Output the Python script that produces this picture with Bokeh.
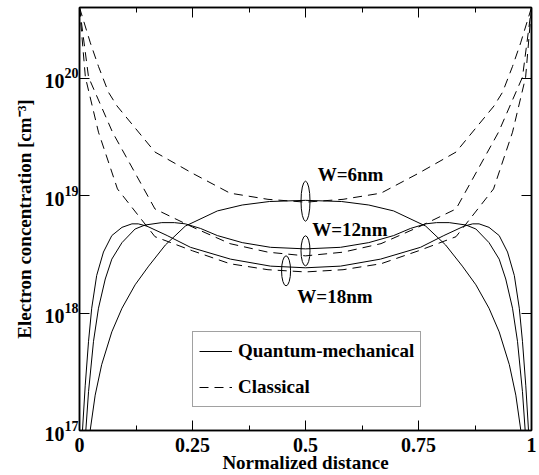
from bokeh.plotting import figure
from bokeh.models import (LinearAxis, LogAxis, Range1d, Legend, LegendItem,
                          FixedTicker, ColumnDataSource, CustomJSTickFormatter)
from bokeh.embed import file_html
from bokeh.resources import INLINE
from bokeh.core.properties import value

# ---------------- data ----------------
# Classical (dashed)
x_cl6 = [0.0, 0.024, 0.042, 0.064, 0.083, 0.167, 0.25, 0.333, 0.417, 0.5,
         0.583, 0.667, 0.75, 0.833, 0.917, 0.936, 0.958, 0.976, 1.0]
n_cl6 = [4.0e20, 2.0e20, 1.26e20, 7.6e19, 5.8e19, 2.35e19, 1.55e19, 1.05e19, 9.3e18, 8.8e18,
         9.3e18, 1.05e19, 1.55e19, 2.35e19, 5.8e19, 7.6e19, 1.26e20, 2.0e20, 4.0e20]

x_cl12 = [0.0, 0.02, 0.073, 0.167, 0.25, 0.333, 0.417, 0.5,
          0.583, 0.667, 0.75, 0.833, 0.927, 0.98, 1.0]
n_cl12 = [4.0e20, 1.02e20, 3.47e19, 7.7e18, 5.4e18, 3.9e18, 3.3e18, 3.07e18,
          3.3e18, 3.9e18, 5.4e18, 7.7e18, 3.47e19, 1.02e20, 4.0e20]

x_cl18 = [0.0, 0.013, 0.042, 0.084, 0.167, 0.25, 0.333, 0.417, 0.5,
          0.583, 0.667, 0.75, 0.833, 0.916, 0.958, 0.987, 1.0]
n_cl18 = [4.0e20, 1.02e20, 3.47e19, 1.14e19, 4.47e18, 3.39e18, 2.63e18, 2.34e18, 2.24e18,
          2.34e18, 2.63e18, 3.39e18, 4.47e18, 1.14e19, 3.47e19, 1.02e20, 4.0e20]

# Quantum-mechanical (solid)
x_qm6 = [0.004, 0.012, 0.0236, 0.0347, 0.049, 0.0715, 0.094, 0.123, 0.153, 0.19, 0.234, 0.305, 0.36, 0.42,
         0.5,
         0.58, 0.64, 0.695, 0.766, 0.81, 0.847, 0.877, 0.906, 0.9285, 0.951, 0.9653, 0.9764, 0.988, 0.996]
n_qm6 = [4e15, 2.5e16, 1.0e17, 2.0e17, 3.63e17, 6.92e17, 1.10e18, 1.74e18, 2.51e18, 3.80e18, 5.50e18, 7.41e18, 8.32e18, 8.91e18,
         9.12e18,
         8.91e18, 8.32e18, 7.41e18, 5.50e18, 3.80e18, 2.51e18, 1.74e18, 1.10e18, 6.92e17, 3.63e17, 2.0e17, 1.0e17, 2.5e16, 4e15]

x_qm12 = [0.003, 0.008, 0.014, 0.020, 0.031, 0.042, 0.057, 0.0715, 0.094, 0.123, 0.145, 0.182, 0.21, 0.234,
          0.268, 0.305, 0.36, 0.4226,
          0.5,
          0.5774, 0.64, 0.695, 0.732, 0.766, 0.79, 0.818, 0.855, 0.877, 0.906, 0.9285, 0.943, 0.958, 0.969,
          0.98, 0.986, 0.992, 0.997]
n_qm12 = [6.3e15, 3.5e16, 1.0e17, 2.14e17, 5.75e17, 1.10e18, 1.95e18, 2.88e18, 3.98e18, 5.2e18, 5.62e18, 5.89e18, 5.89e18, 5.75e18,
          5.25e18, 4.57e18, 3.98e18, 3.63e18,
          3.52e18,
          3.63e18, 3.98e18, 4.57e18, 5.25e18, 5.75e18, 5.89e18, 5.89e18, 5.62e18, 5.2e18, 3.98e18, 2.88e18, 1.95e18, 1.10e18, 5.75e17,
          2.14e17, 1.0e17, 3.5e16, 6.3e15]

x_qm18 = [0.002, 0.0066, 0.0126, 0.020, 0.027, 0.038, 0.053, 0.0715, 0.094, 0.116, 0.13, 0.149, 0.194, 0.2456, 0.334, 0.4226,
          0.5,
          0.5774, 0.666, 0.7544, 0.806, 0.851, 0.87, 0.884, 0.906, 0.9285, 0.947, 0.962, 0.973, 0.98, 0.9874, 0.9934, 0.998]
n_qm18 = [1.26e16, 1.0e17, 2.4e17, 5.75e17, 1.10e18, 2.09e18, 3.31e18, 4.57e18, 5.37e18, 5.75e18, 5.75e18, 5.5e18, 4.57e18, 3.63e18, 2.88e18, 2.51e18,
          2.43e18,
          2.51e18, 2.88e18, 3.63e18, 4.57e18, 5.5e18, 5.75e18, 5.75e18, 5.37e18, 4.57e18, 3.31e18, 2.09e18, 1.10e18, 5.75e17, 2.4e17, 1.0e17, 1.26e16]

# Annotations
label_text = ["W=6nm", "W=12nm", "W=18nm"]
label_x = [0.527, 0.515, 0.482]
label_y = [1.51e19, 5.1e18, 1.38e18]
ring_x = [0.5, 0.5, 0.457]
ring_y = [8.97e18, 3.39e18, 2.29e18]
ring_h = [40, 30, 30]

x_ticks = [0, 0.25, 0.5, 0.75, 1]
x_minor = [0.125, 0.375, 0.625, 0.875]
y_ticks = [1e17, 1e18, 1e19, 1e20]

FONT = "Liberation Serif"

# ---------------- figure ----------------
p = figure(width=539, height=475,
           x_range=Range1d(0, 1), y_range=Range1d(1e17, 4e20),
           y_axis_type="log", output_backend="svg", toolbar_location=None,
           min_border_left=79, min_border_right=8, min_border_top=7, min_border_bottom=43)
p.grid.visible = False
p.outline_line_color = "black"
p.outline_line_width = 1.5
p.background_fill_color = "white"

def style_axis(ax, labels=True):
    ax.axis_line_color = "black"
    ax.axis_line_width = 1.5
    ax.major_tick_in = 10
    ax.major_tick_out = 0
    ax.minor_tick_in = 5
    ax.minor_tick_out = 0
    ax.major_tick_line_color = "black"
    ax.minor_tick_line_color = "black"
    ax.major_label_text_font = FONT
    ax.major_label_text_font_style = "bold"
    ax.major_label_text_color = "black"
    ax.axis_label_text_color = "black"
    if labels:
        ax.major_label_text_font_size = "20px"
    else:
        ax.formatter = CustomJSTickFormatter(code="return ''")
        ax.major_label_text_font_size = "1px"
        ax.major_label_standoff = 0

xa = p.xaxis[0]
xa.ticker = FixedTicker(ticks=x_ticks, minor_ticks=x_minor)
style_axis(xa)
xa.major_label_standoff = 7
xa.axis_label = "Normalized distance"
xa.axis_label_text_font = FONT
xa.axis_label_text_font_style = "bold"
xa.axis_label_text_font_size = "19px"
xa.axis_label_standoff = -3

ya = p.yaxis[0]
ya.ticker = FixedTicker(ticks=y_ticks, minor_ticks=[])
style_axis(ya)
ya.minor_tick_line_color = None
ya.major_label_standoff = 1
ya.axis_label = "Electron concentration [cm\u207B\u00B3]"
ya.axis_label_text_font = FONT
ya.axis_label_text_font_style = "bold"
ya.axis_label_text_font_size = "19px"
ya.axis_label_standoff = 7

top = LinearAxis(ticker=FixedTicker(ticks=x_ticks, minor_ticks=x_minor))
style_axis(top, labels=False)
p.add_layout(top, "above")
right = LogAxis(ticker=FixedTicker(ticks=y_ticks, minor_ticks=[]))
style_axis(right, labels=False)
right.minor_tick_line_color = None
p.add_layout(right, "right")

# curves
qm_renderers = []
cl_renderers = []
for xs, ns in [(x_qm6, n_qm6), (x_qm12, n_qm12), (x_qm18, n_qm18)]:
    qm_renderers.append(p.line(xs, ns, line_color="black", line_width=1))
for xs, ns in [(x_cl6, n_cl6), (x_cl12, n_cl12), (x_cl18, n_cl18)]:
    cl_renderers.append(p.line(xs, ns, line_color="black", line_width=1, line_dash="9 6"))

# ellipses and labels
p.ellipse(x=ring_x, y=ring_y, width=9, height=ring_h,
          width_units="screen", height_units="screen",
          fill_color=None, line_color="black", line_width=1)
src = ColumnDataSource(dict(x=label_x, y=label_y, t=label_text))
p.text(x="x", y="y", text="t", source=src, text_font=value(FONT),
       text_font_style="bold", text_font_size="19px", text_color="black",
       text_baseline="middle", text_align="left")

legend = Legend(items=[LegendItem(label="Quantum-mechanical", renderers=[qm_renderers[0]]),
                       LegendItem(label="Classical", renderers=[cl_renderers[0]])],
                location=(113, 23))
legend.border_line_color = "#444444"
legend.border_line_width = 1
legend.background_fill_color = "white"
legend.background_fill_alpha = 1
legend.padding = 6
legend.spacing = 10
legend.margin = 0
legend.glyph_width = 33
legend.glyph_height = 26
legend.label_height = 26
legend.label_standoff = 6
legend.label_text_font = FONT
legend.label_text_font_style = "bold"
legend.label_text_font_size = "19px"
legend.label_text_color = "black"
p.add_layout(legend)

open("out.html", "w").write(file_html(p, INLINE))
